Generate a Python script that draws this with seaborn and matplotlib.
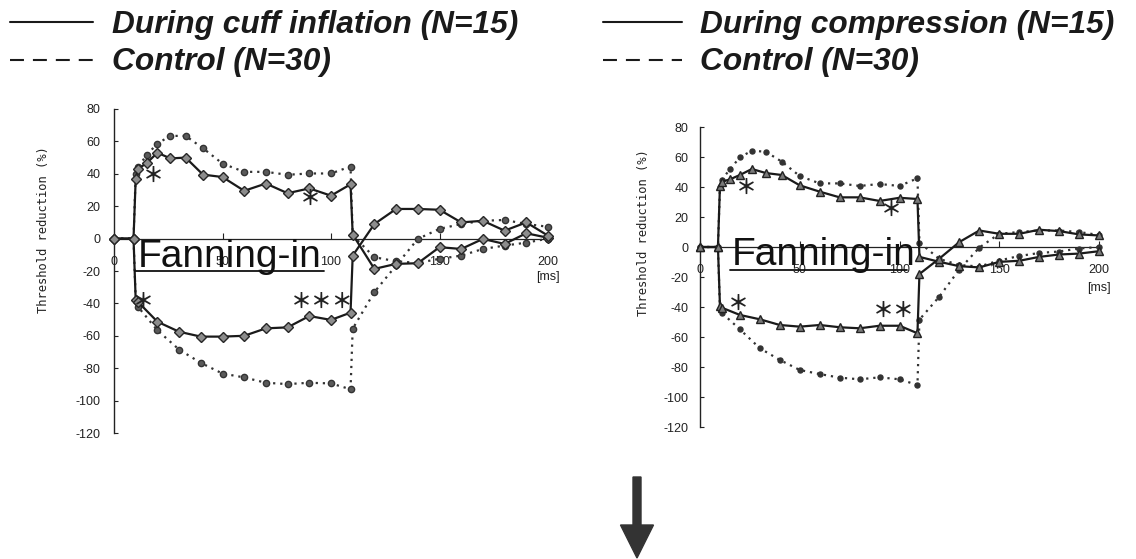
import matplotlib
matplotlib.use("Agg")
import matplotlib.pyplot as plt
import seaborn as sns
import pandas as pd
from matplotlib.lines import Line2D
from matplotlib.patches import FancyArrow

# ---------------- data (ms, % threshold reduction) ----------------
t_depol = [0, 9, 10, 11, 15, 20, 26, 33, 41, 50, 60, 70, 80, 90, 100, 109,
           110, 120, 130, 140, 150, 160, 170, 180, 190, 200]
t_hyper = [0, 9, 10, 11, 20, 30, 40, 50, 60, 70, 80, 90, 100, 109,
           110, 120, 130, 140, 150, 160, 170, 180, 190, 200]

cuff_ted = [0, 0, 37, 43, 46.5, 53, 49.5, 50, 39.5, 38, 29.5, 34, 28, 31, 26.5, 33.5,
            2.5, -18.7, -15.6, -15.2, -5.3, -6.4, -0.2, -3.3, 3.3, 0.5]
cuff_teh = [0, 0, -38, -39, -51.3, -57.5, -60.5, -60.5, -60, -55.4, -54.8, -47.8, -50.2, -45.7,
            -10.5, 9, 18.3, 18.3, 17.8, 10, 11, 4.9, 10, 1.8]
cuff_ctrl_ted = [0, 0, 40, 44, 51.5, 58.7, 63.4, 63.4, 55.8, 46.3, 41.2, 41.2, 39.4, 40.2, 40.2, 44.5,
                 2, -11.5, -14, -15, -12.5, -10.5, -6.4, -4.3, -2.5, 0]
cuff_ctrl_teh = [0, 0, -38, -42, -56.6, -68.5, -76.7, -83.3, -85.7, -89, -89.8, -89, -89.4, -93,
                 -55.6, -33, -16.6, -0.2, 6, 9, 11, 11.5, 9, 7.3]

comp_ted = [0, 0, 40.7, 43.5, 45.1, 48, 52, 49.3, 48, 41.1, 36.9, 33.1, 33.1, 30.7, 32.8, 32,
            -6.6, -9.9, -12.8, -13.6, -9.9, -9.2, -6.6, -5, -4.4, -2.8]
comp_teh = [0, 0, -39.3, -40.5, -45.3, -48.2, -52, -53.1, -52, -53.5, -54.2, -52.5, -52.5, -57.5,
            -18, -7.7, 3.3, 11, 8.8, 8.8, 11.5, 10.6, 8.4, 7.7]
comp_ctrl_ted = [0, 0, 40, 45, 51.8, 59.8, 64.2, 63.5, 56.9, 47.3, 42.4, 42.4, 40.7, 42, 40.7, 45.8,
                 3, -8, -12, -13, -9, -6, -4, -3, -1, 0]
comp_ctrl_teh = [0, 0, -41, -44, -54.9, -67.5, -75.3, -82, -84.7, -87.1, -88.2, -86.9, -88.2, -92,
                 -48.4, -33, -15, -0.4, 8.8, 10, 11, 11, 10, 8]

y_ticks = [80, 60, 40, 20, 0, -20, -40, -60, -80, -100, -120]
x_ticks = [0, 50, 100, 150, 200]

legend_left = ["During cuff inflation (N=15)", "Control (N=30)"]
legend_right = ["During compression (N=15)", "Control (N=30)"]
ylabel = "Threshold reduction (%)"
band_label = "Fanning-in"

# significance marks: (x, y, text)
stars_left = [(18, 39, "＊"), (90.5, 25, "＊"), (13.5, -39, "＊"), (96, -39, "＊＊＊")]
stars_right = [(23, 40, "＊"), (96, 25, "＊"), (19, -37.5, "＊"), (97, -42, "＊＊")]

# ---------------- figure ----------------
sns.set_style("white")
plt.rcParams["font.family"] = ["Liberation Sans", "DejaVu Sans"]

W, H = 1136, 559
fig = plt.figure(figsize=(W / 100, H / 100), dpi=100)


def rect(x0, x1, ytop, ybot):
    return [x0 / W, 1 - ybot / H, (x1 - x0) / W, (ybot - ytop) / H]


axL = fig.add_axes(rect(114, 548, 109, 433))
axR = fig.add_axes(rect(700, 1099, 127, 427))


def draw(ax, t, v, ls, marker, ms, mfc, mec, lw=1.6, color="#1a1a1a"):
    df = pd.DataFrame({"t": t, "v": v})
    sns.lineplot(data=df, x="t", y="v", ax=ax, sort=False, estimator=None,
                 color=color, linestyle=ls, linewidth=lw, marker=marker,
                 markersize=ms, markerfacecolor=mfc, markeredgecolor=mec,
                 markeredgewidth=1.0, zorder=3)


dotted = (0, (1, 2.2))

# left panel
draw(axL, t_depol, cuff_ctrl_ted, dotted, "o", 4.5, "#5a5a5a", "#333333", color="#333333")
draw(axL, t_hyper, cuff_ctrl_teh, dotted, "o", 4.5, "#5a5a5a", "#333333", color="#333333")
draw(axL, t_depol, cuff_ted, "-", "D", 5.5, "#8c8c8c", "#262626")
draw(axL, t_hyper, cuff_teh, "-", "D", 5.5, "#8c8c8c", "#262626")

# right panel
draw(axR, t_depol, comp_ctrl_ted, dotted, "o", 3.6, "#333333", "#333333", color="#333333")
draw(axR, t_hyper, comp_ctrl_teh, dotted, "o", 3.6, "#333333", "#333333", color="#333333")
draw(axR, t_depol, comp_ted, "-", "^", 5.8, "#7a7a7a", "#222222")
draw(axR, t_hyper, comp_teh, "-", "^", 5.8, "#7a7a7a", "#222222")


def style(ax, ypad, ylab_xy, ms_y, tx, ty, ul, stars):
    for ln in ax.lines:
        ln.set_clip_on(False)
    ax.set_facecolor("none")
    ax.set_xlim(0, 200)
    ax.set_ylim(-120, 80)
    ax.spines["top"].set_visible(False)
    ax.spines["right"].set_visible(False)
    ax.spines["bottom"].set_position(("data", 0))
    ax.spines["bottom"].set_linewidth(0.9)
    ax.spines["left"].set_linewidth(1.0)
    ax.spines["left"].set_color("#222222")
    ax.spines["bottom"].set_color("#222222")
    ax.set_yticks(y_ticks)
    ax.set_yticklabels([str(y) for y in y_ticks])
    ax.set_xticks(x_ticks)
    ax.set_xticklabels([str(x) for x in x_ticks])
    ax.tick_params(axis="y", direction="in", length=3, pad=ypad, labelsize=9,
                   colors="#222222", left=True)
    ax.tick_params(axis="x", direction="in", length=4, pad=12.5, labelsize=9,
                   colors="#222222", bottom=True)
    ax.set_xlabel("")
    ax.set_ylabel(ylabel, fontsize=8.7, family="DejaVu Sans Mono", color="#222222")
    ax.yaxis.set_label_coords(*ylab_xy)
    ax.text(200, ms_y, "[ms]", ha="center", va="center", fontsize=9, color="#222222")
    ax.text(tx, ty, band_label, ha="left", va="baseline", fontsize=28,
            color="#111111", zorder=4)
    ax.plot([ul[0], ul[1]], [ul[2], ul[2]], color="#111111", lw=1.3, zorder=4)
    for sx, sy, s in stars:
        ax.text(sx, sy, s, ha="center", va="center", fontsize=15, fontweight="bold",
                family=["Noto Sans CJK JP", "DejaVu Sans"], color="#222222", zorder=5)


style(axL, 9.5, (-0.147, 0.627), -23.7, 11, -17.3, (9.7, 97, -19.8), stars_left)
style(axR, 8.5, (-0.125, 0.647), -27.5, 15.9, -12, (15, 104, -15.3), stars_right)

# legends drawn at the top
def px(x, y):
    return x / W, 1 - y / H


def legend_rows(x0, x1, xt, labels):
    rows = [(21.7, "-", 33.5), (60, (0, (6.7, 4.3)), 69.8)]
    for (yl, ls, yb), lab in zip(rows, labels):
        a, b = px(x0, yl)
        c, _ = px(x1, yl)
        fig.add_artist(Line2D([a, c], [b, b], transform=fig.transFigure,
                              color="#1a1a1a", lw=1.5, linestyle=ls))
        tx, ty = px(xt, yb)
        fig.text(tx, ty, lab, ha="left", va="baseline", fontsize=22.8,
                 fontweight="bold", fontstyle="italic", color="#1a1a1a")


legend_rows(10, 93, 112, legend_left)
legend_rows(603, 682, 700, legend_right)

# down arrow
arrow = FancyArrow(6.37, 5.59 - 4.77, 0, -0.81, width=0.08, head_width=0.33,
                   head_length=0.33, length_includes_head=True,
                   transform=fig.dpi_scale_trans, color="#333333")
fig.add_artist(arrow)

fig.savefig("out.png", dpi=100)
